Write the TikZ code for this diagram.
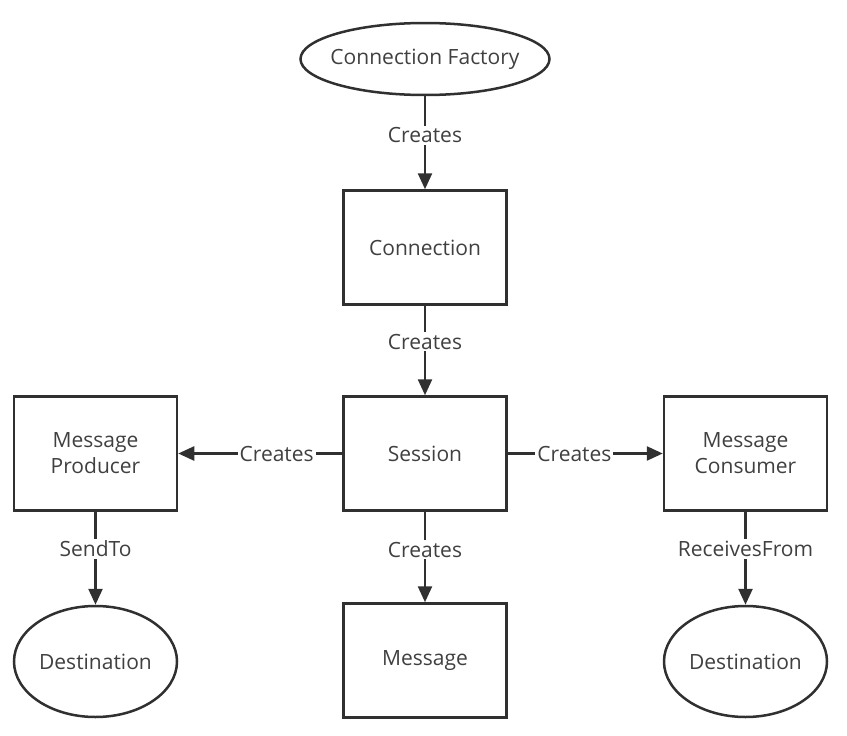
\documentclass[tikz,border=0pt]{standalone}
\usepackage{fontspec}
\setmainfont{Open Sans}
\usetikzlibrary{shapes.geometric,arrows.meta}
\definecolor{linec}{HTML}{303030}
\definecolor{textc}{HTML}{404040}
\begin{document}
\begin{tikzpicture}[x=1pt,y=-1pt,
  box/.style={draw=linec,line width=2.5pt,rectangle,minimum width=163pt,minimum height=114pt,align=center,text=textc,font=\fontsize{21}{26}\selectfont},
  oval/.style={draw=linec,line width=2.5pt,ellipse,inner sep=0pt,align=center,text=textc,font=\fontsize{21}{26}\selectfont},
  conn/.style={draw=linec,line width=2.5pt,-{Triangle[length=16pt,width=14pt]}},
  lbl/.style={fill=white,text=textc,inner sep=2pt,font=\fontsize{21}{26}\selectfont}]
\useasboundingbox (0,0) rectangle (847,736);
\node[oval,minimum width=249pt,minimum height=72pt] (cf) at (425,59) {\makebox[0pt]{Connection Factory}};
\node[box] (con) at (425,247.5) {Connection};
\node[box] (ses) at (425,453.5) {Session};
\node[box] (prod) at (95.5,453.5) {Message\\Producer};
\node[box] (cons) at (745.5,453.5) {Message\\Consumer};
\node[box] (msg) at (425,660.5) {Message};
\node[oval,minimum width=163pt,minimum height=111pt] (d1) at (95.5,661.5) {\makebox[0pt]{Destination}};
\node[oval,minimum width=163pt,minimum height=111pt] (d2) at (745.5,661.5) {\makebox[0pt]{Destination}};
\draw[conn] (cf) -- node[lbl,pos=0.42] {Creates} (con);
\draw[conn] (con) -- node[lbl,pos=0.4] {Creates} (ses);
\draw[conn] (ses) -- node[lbl,pos=0.4] {Creates} (prod);
\draw[conn] (ses) -- node[lbl,pos=0.43] {Creates} (cons);
\draw[conn] (ses) -- node[lbl,pos=0.42] {Creates} (msg);
\draw[conn] (prod) -- node[lbl,pos=0.4] {SendTo} (d1);
\draw[conn] (cons) -- node[lbl,pos=0.4] {ReceivesFrom} (d2);
\end{tikzpicture}
\end{document}
